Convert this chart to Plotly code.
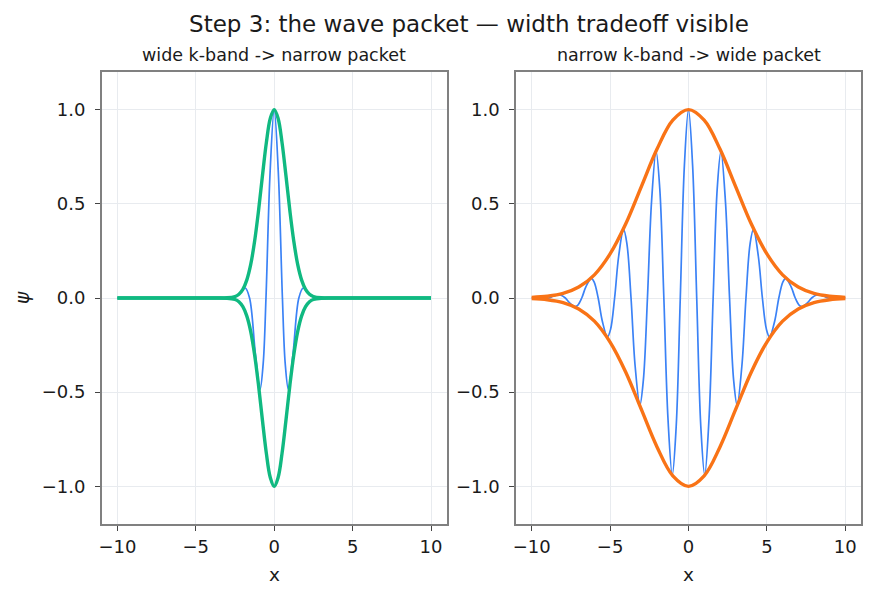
import plotly.graph_objects as go

# ---------------- data ----------------
# left panel: wide k-band -> narrow packet
left_wave_x = [-10, -4, -3.14, -2.618, -2.2, -1.85, -1.571, -1.2, -0.903, -0.70, -0.524, -0.26,
               0, 0.26, 0.524, 0.70, 0.903, 1.2, 1.571, 1.85, 2.2, 2.618, 3.14, 4, 10]
left_wave_y = [0, 0, 0, 0, 0.023, 0.053, 0, -0.296, -0.485, -0.346, 0, 0.671,
               1, 0.671, 0, -0.346, -0.485, -0.296, 0, 0.053, 0.023, 0, 0, 0, 0]

left_env_x = [-10, -4, -3, -2.5, -2.25, -2, -1.75, -1.5, -1.25, -1, -0.75, -0.5, -0.25,
              0, 0.25, 0.5, 0.75, 1, 1.25, 1.5, 1.75, 2, 2.25, 2.5, 3, 4, 10]
left_env_y = [0, 0, 0.001, 0.008, 0.020, 0.046, 0.095, 0.177, 0.301, 0.463, 0.649, 0.825, 0.953,
              1, 0.953, 0.825, 0.649, 0.463, 0.301, 0.177, 0.095, 0.046, 0.020, 0.008, 0.001, 0, 0]

# right panel: narrow k-band -> wide packet
right_wave_x = [-10, -9.948, -9.687, -9.30, -9.163, -8.901, -8.639, -8.27, -8.116, -7.854,
                -7.592, -7.24, -7.069, -6.807, -6.545, -6.20, -6.021, -5.760, -5.498, -5.17,
                -4.974, -4.712, -4.451, -4.14, -3.927, -3.665, -3.403, -3.10, -2.880, -2.618,
                -2.356, -2.067, -1.833, -1.571, -1.309, -1.034, -0.785, -0.524, -0.262,
                0,
                0.262, 0.524, 0.785, 1.034, 1.309, 1.571, 1.833, 2.067, 2.356, 2.618,
                2.880, 3.10, 3.403, 3.665, 3.927, 4.14, 4.451, 4.712, 4.974, 5.17,
                5.498, 5.760, 6.021, 6.20, 6.545, 6.807, 7.069, 7.24, 7.592, 7.854,
                8.116, 8.27, 8.639, 8.901, 9.163, 9.30, 9.687, 9.948, 10]
right_wave_y = [0, 0, -0.003, -0.006, -0.005, 0, 0.009, 0.018, 0.015, 0,
                -0.025, -0.046, -0.039, 0, 0.059, 0.104, 0.086, 0, -0.122, -0.207,
                -0.168, 0, 0.223, 0.364, 0.288, 0, -0.361, -0.568, -0.437, 0,
                0.512, 0.778, 0.582, 0, -0.640, -0.939, -0.682, 0, 0.704,
                1,
                0.704, 0, -0.682, -0.939, -0.640, 0, 0.582, 0.778, 0.512, 0,
                -0.437, -0.568, -0.361, 0, 0.288, 0.364, 0.223, 0, -0.168, -0.207,
                -0.122, 0, 0.086, 0.104, 0.059, 0, -0.039, -0.046, -0.025, 0,
                0.015, 0.018, 0.009, 0, -0.005, -0.006, -0.003, 0, 0]

right_env_x = [-10, -9, -8, -7, -6, -5, -4, -3, -2, -1, 0, 1, 2, 3, 4, 5, 6, 7, 8, 9, 10]
right_env_y = [0.003, 0.009, 0.024, 0.058, 0.123, 0.234, 0.394, 0.593, 0.792, 0.944, 1,
               0.944, 0.792, 0.593, 0.394, 0.234, 0.123, 0.058, 0.024, 0.009, 0.003]

x_tick_vals = [-10, -5, 0, 5, 10]
x_tick_text = ["\u221210", "\u22125", "0", "5", "10"]
y_tick_vals = [-1.0, -0.5, 0.0, 0.5, 1.0]
y_tick_text = ["\u22121.0", "\u22120.5", "0.0", "0.5", "1.0"]

title_text = "Step 3: the wave packet \u2014 width tradeoff visible"
left_title = "wide k-band -> narrow packet"
right_title = "narrow k-band -> wide packet"

# ---------------- styling ----------------
W, H = 875, 598
FONT = "DejaVu Sans"
BLUE = "#3b82f6"
GREEN = "#10b981"
ORANGE = "#f97316"
TXT = "#1a1a1a"

fig = go.Figure()

def line(x, y, color, width, xa, ya):
    return go.Scatter(x=x, y=y, mode="lines", xaxis=xa, yaxis=ya, showlegend=False,
                      line=dict(color=color, width=width, shape="spline", smoothing=1.0),
                      hoverinfo="skip")

fig.add_trace(line(left_wave_x, left_wave_y, BLUE, 1.7, "x", "y"))
fig.add_trace(line(left_env_x, left_env_y, GREEN, 3.4, "x", "y"))
fig.add_trace(line(left_env_x, [-v for v in left_env_y], GREEN, 3.4, "x", "y"))

fig.add_trace(line(right_wave_x, right_wave_y, BLUE, 1.7, "x2", "y2"))
fig.add_trace(line(right_env_x, right_env_y, ORANGE, 3.4, "x2", "y2"))
fig.add_trace(line(right_env_x, [-v for v in right_env_y], ORANGE, 3.4, "x2", "y2"))

def px_x(p):
    return p / W

def px_y(p):
    return 1 - p / H

axis_common = dict(
    showline=True, linecolor="#808080", linewidth=1.5, mirror=True,
    ticks="outside", ticklen=5, tickwidth=1.3, tickcolor="#444444",
    showgrid=True, gridcolor="#e8ebef", gridwidth=1, zeroline=False,
    tickfont=dict(family=FONT, size=18, color=TXT),
    automargin=False,
)

ydom = [px_y(524), px_y(72)]
fig.update_layout(
    width=W, height=H,
    margin=dict(l=0, r=0, t=0, b=0, autoexpand=False),
    paper_bgcolor="white", plot_bgcolor="white",
    font=dict(family=FONT, color=TXT),
    title=dict(text=title_text, x=px_x(469), y=px_y(24), xanchor="center", yanchor="middle",
               font=dict(family=FONT, size=23, color=TXT)),
    xaxis=dict(domain=[px_x(101.7), px_x(446.7)], range=[-11, 11], anchor="y",
               tickvals=x_tick_vals, ticktext=x_tick_text, ticklabelstandoff=1, **axis_common),
    yaxis=dict(domain=ydom, range=[-1.2, 1.2], anchor="x",
               tickvals=y_tick_vals, ticktext=y_tick_text, ticklabelstandoff=6, **axis_common),
    xaxis2=dict(domain=[px_x(516), px_x(861)], range=[-11, 11], anchor="y2",
                tickvals=x_tick_vals, ticktext=x_tick_text, ticklabelstandoff=1, **axis_common),
    yaxis2=dict(domain=ydom, range=[-1.2, 1.2], anchor="x2",
                tickvals=y_tick_vals, ticktext=y_tick_text, ticklabelstandoff=6, **axis_common),
)

ann = [
    dict(text=left_title, x=px_x(274.2), y=px_y(55), font=dict(size=17.5)),
    dict(text=right_title, x=px_x(688.5), y=px_y(55), font=dict(size=17.5)),
    dict(text="x", x=px_x(274.2), y=px_y(574), font=dict(size=18.5)),
    dict(text="x", x=px_x(688.5), y=px_y(574), font=dict(size=18.5)),
    dict(text="<i>\u03c8</i>", x=px_x(22), y=px_y(298), font=dict(size=18.5), textangle=-90),
]
for a in ann:
    a["font"].update(family=FONT, color=TXT)
    fig.add_annotation(xref="paper", yref="paper", showarrow=False,
                       xanchor="center", yanchor="middle", **a)

fig.write_html("out.html")
